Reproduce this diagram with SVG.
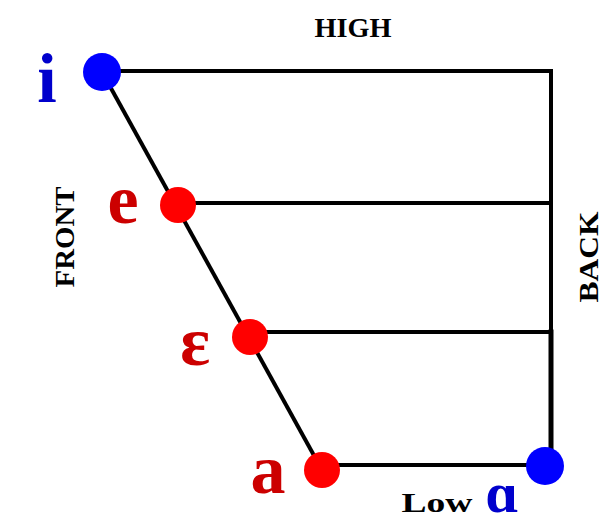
<svg xmlns="http://www.w3.org/2000/svg" width="605" height="525" viewBox="0 0 605 525">
<style>
.ln{stroke:#000;stroke-width:4;fill:none;stroke-linecap:square}
.front{fill:#ff0000}
.back{fill:#0000ff}
.vr{font-family:"Liberation Serif","Times New Roman",serif;font-weight:bold;font-size:70px;fill:#cc0000}
.vb{font-family:"Liberation Serif","Times New Roman",serif;font-weight:bold;font-size:70px;fill:#0000cc}
.ax{font-family:"Liberation Serif","Times New Roman",serif;font-weight:bold;font-size:28px;fill:#000}
</style>
<rect width="605" height="525" fill="#fff"/>
<g id="connectors">
<line class="ln" x1="102" y1="72" x2="322" y2="470"/>
<line class="ln" x1="102" y1="71" x2="551" y2="71"/>
<line class="ln" x1="551" y1="71" x2="551" y2="332"/>
<line class="ln" x1="551" y1="332" x2="551" y2="466" style="stroke-width:5"/>
<line class="ln" x1="178" y1="203" x2="551" y2="203"/>
<line class="ln" x1="250" y1="332" x2="551" y2="332"/>
<line class="ln" x1="322" y1="465" x2="545" y2="465"/>
</g>
<g id="node-i">
<circle class="back" cx="102" cy="72" r="19"/>
<text class="vb" x="47" y="102" text-anchor="middle">i</text>
</g>
<g id="node-e">
<circle class="front" cx="178" cy="205" r="18"/>
<text class="vr" x="123" y="223" text-anchor="middle">e</text>
</g>
<g id="node-epsilon">
<circle class="front" cx="250" cy="337" r="18"/>
<text class="vr" x="195" y="365" text-anchor="middle">ɛ</text>
</g>
<g id="node-a">
<circle class="front" cx="322" cy="470" r="18"/>
<text class="vr" x="268" y="493" text-anchor="middle">a</text>
</g>
<g id="node-alpha">
<circle class="back" cx="545" cy="466" r="19"/>
<text class="vb" x="502" y="512" text-anchor="middle" style="font-size:58px">ɑ</text>
</g>
<g id="axis-labels">
<text class="ax" x="353" y="37" text-anchor="middle" textLength="77" lengthAdjust="spacingAndGlyphs">HIGH</text>
<text class="ax" x="437" y="512" text-anchor="middle" textLength="71" lengthAdjust="spacingAndGlyphs">Low</text>
<text class="ax" transform="translate(74,237) rotate(-90)" text-anchor="middle" textLength="101" lengthAdjust="spacingAndGlyphs">FRONT</text>
<text class="ax" transform="translate(598,257) rotate(-90)" text-anchor="middle" textLength="91" lengthAdjust="spacingAndGlyphs">BACK</text>
</g>
</svg>
